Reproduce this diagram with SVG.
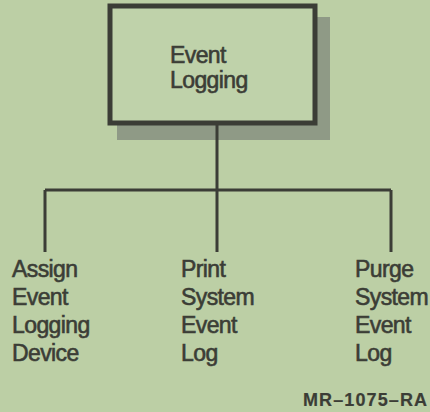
<svg xmlns="http://www.w3.org/2000/svg" width="430" height="412" viewBox="0 0 430 412">
<style>
text{font-family:"Liberation Sans",Arial,sans-serif;fill:#3b3d36;stroke:#3b3d36;stroke-width:0.6;font-size:23px;letter-spacing:-0.6px}
.ln{stroke:#3b3d36;stroke-width:3;fill:none}
</style>
<rect width="430" height="412" fill="#bccfa5"/>
<g id="root">
<rect x="117" y="17" width="213" height="123" fill="#8f9a86"/>
<rect x="110" y="6" width="205" height="117" fill="#bfd2aa" stroke="#3b3d36" stroke-width="5"/>
<text x="170" y="63">Event</text>
<text x="170" y="88">Logging</text>
</g>
<g id="connectors">
<path class="ln" d="M217 125V190M45 190H391M45 190V252M217 190V252M391 190V252"/>
</g>
<g id="assign">
<text x="12" y="277">Assign</text>
<text x="12" y="305">Event</text>
<text x="12" y="333">Logging</text>
<text x="12" y="361">Device</text>
</g>
<g id="print">
<text x="181" y="277">Print</text>
<text x="181" y="305">System</text>
<text x="181" y="333">Event</text>
<text x="181" y="361">Log</text>
</g>
<g id="purge">
<text x="355" y="277">Purge</text>
<text x="355" y="305">System</text>
<text x="355" y="333">Event</text>
<text x="355" y="361">Log</text>
</g>
<text x="303" y="406" style="font-size:18px;font-weight:bold;stroke-width:0.2;letter-spacing:0" textLength="124">MR–1075–RA</text>
</svg>
